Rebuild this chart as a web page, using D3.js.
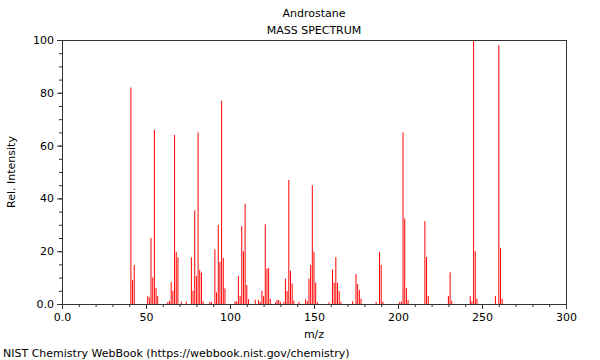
<!DOCTYPE html>
<html>
<head>
<meta charset="utf-8">
<script src="https://cdn.jsdelivr.net/npm/d3@7"></script>
<style>
    body { margin: 0; background: #fff; }
    svg text { font-family: "DejaVu Sans", sans-serif; fill: #000; }
</style>
</head>
<body>
<div id="chart"></div>
<script>
// peaks (m/z, relative intensity)
var massValues = [41, 42, 43, 51, 52, 53, 54, 55, 56, 57, 63, 64, 65, 66, 67, 68, 69, 71, 74,
    77, 78, 79, 80, 81, 82, 83, 84, 88, 89, 91, 92, 93, 94, 95, 96, 97, 103, 104,
    105, 106, 107, 108, 109, 110, 111, 115, 117, 118, 119, 120, 121, 122, 123, 124,
    127, 128, 129, 130, 132, 133, 134, 135, 136, 137, 138, 141, 145, 146, 147, 148,
    149, 150, 151, 152, 159, 161, 162, 163, 164, 165, 166, 173, 175, 176, 177, 178,
    187, 189, 190, 191, 201, 202, 203, 204, 205, 206, 216, 217, 218, 230, 231, 232,
    243, 244, 245, 246, 247, 258, 260, 261, 262];
var intensityValues = [82, 9, 14.8, 3, 2.5, 25, 10, 66, 6, 3, 0.8, 1.2, 8.3, 5, 64, 19.8, 17.7, 0.9, 0.9,
    17.7, 5, 35.5, 10.6, 65, 13, 11.9, 1, 0.9, 0.7, 20.7, 4.4, 30, 16, 77, 17.5, 5.9, 1, 1,
    10.6, 3, 29.5, 20, 38, 7.2, 1.8, 1.6, 1.6, 0.8, 5, 3, 30.2, 13.4, 13.6, 2,
    0.6, 1.5, 1.5, 0.8, 0.8, 9.6, 4.9, 47, 12.6, 7.8, 1.3, 0.8, 1.8, 1, 9.7, 14.8,
    45, 19.8, 8.1, 0.7, 0.7, 13.1, 8.1, 17.8, 8, 4.9, 0.8, 1, 11.4, 7.6, 5.3, 2,
    0.8, 19.7, 14.8, 0.9, 0.8, 0.9, 65, 32.4, 6.1, 1.5, 31.4, 17.8, 3, 3, 12, 1.2,
    3, 1, 100, 20, 2, 3, 98, 21.3, 2];

var xTickValues = [0, 50, 100, 150, 200, 250, 300];
var xTickLabels = ["0.0", "50", "100", "150", "200", "250", "300"];
var yTickValues = [0, 20, 40, 60, 80, 100];
var yTickLabels = ["0.0", "20", "40", "60", "80", "100"];

var chartTitle = "Androstane";
var chartSubtitle = "MASS SPECTRUM";
var footerText = "NIST Chemistry WebBook (https://webbook.nist.gov/chemistry)";

var width = 600, height = 360;
var plotLeft = 62, plotRight = 566, plotTop = 40, plotBottom = 304;

var svgContainer = d3.select("#chart")
    .append("svg")
    .attr("width", width)
    .attr("height", height);

var xScale = d3.scaleLinear().domain([0, 300]).range([plotLeft, plotRight]);
var yScale = d3.scaleLinear().domain([0, 100]).range([plotBottom, plotTop]);

var peaks = massValues.map(function(mz, i) {
    return { mz: mz, intensity: intensityValues[i] };
});

// spectrum lines
svgContainer.append("g")
    .selectAll("line")
    .data(peaks)
    .enter()
    .append("line")
    .attr("x1", function(d) { return xScale(d.mz); })
    .attr("x2", function(d) { return xScale(d.mz); })
    .attr("y1", yScale(0))
    .attr("y2", function(d) { return yScale(d.intensity); })
    .attr("stroke", "#ff0000")
    .attr("stroke-width", 1);

// minor ticks
var xAxisMinor = d3.axisBottom(xScale).tickValues(d3.range(0, 301, 10)).tickSize(3).tickFormat("");
var yAxisMinor = d3.axisLeft(yScale).tickValues(d3.range(0, 101, 5)).tickSize(3).tickFormat("");

svgContainer.append("g")
    .attr("transform", "translate(0," + plotBottom + ")")
    .call(xAxisMinor)
    .call(function(g) { g.select(".domain").remove(); });
svgContainer.append("g")
    .attr("transform", "translate(" + plotLeft + ",0)")
    .call(yAxisMinor)
    .call(function(g) { g.select(".domain").remove(); });

// major ticks + labels
var xAxis = d3.axisBottom(xScale)
    .tickValues(xTickValues)
    .tickSize(5)
    .tickFormat(function(d, i) { return xTickLabels[i]; });
var yAxis = d3.axisLeft(yScale)
    .tickValues(yTickValues)
    .tickSize(5)
    .tickFormat(function(d, i) { return yTickLabels[i]; });

svgContainer.append("g")
    .attr("transform", "translate(0," + plotBottom + ")")
    .call(xAxis)
    .call(function(g) {
        g.select(".domain").remove();
        g.selectAll("text").attr("y", 9).style("font-size", "11px").style("font-family", "DejaVu Sans");
    });
svgContainer.append("g")
    .attr("transform", "translate(" + plotLeft + ",0)")
    .call(yAxis)
    .call(function(g) {
        g.select(".domain").remove();
        g.selectAll("text").attr("x", -8).style("font-size", "11px").style("font-family", "DejaVu Sans");
    });

svgContainer.selectAll(".tick line").attr("stroke", "#333");

// frame
svgContainer.append("rect")
    .attr("x", plotLeft + 0.5)
    .attr("y", plotTop + 0.5)
    .attr("width", plotRight - plotLeft)
    .attr("height", plotBottom - plotTop)
    .attr("fill", "none")
    .attr("stroke", "#333")
    .attr("stroke-width", 1);

// titles
svgContainer.append("text")
    .attr("x", 314)
    .attr("y", 17)
    .attr("text-anchor", "middle")
    .style("font-size", "11px")
    .text(chartTitle);
svgContainer.append("text")
    .attr("x", 314)
    .attr("y", 34)
    .attr("text-anchor", "middle")
    .style("font-size", "11px")
    .text(chartSubtitle);

svgContainer.append("text")
    .attr("x", 314)
    .attr("y", 338)
    .attr("text-anchor", "middle")
    .style("font-size", "11px")
    .text("m/z");

svgContainer.append("text")
    .attr("transform", "translate(15," + ((plotTop + plotBottom) / 2) + ") rotate(-90)")
    .attr("text-anchor", "middle")
    .style("font-size", "11px")
    .text("Rel. Intensity");

svgContainer.append("text")
    .attr("x", 3)
    .attr("y", 357)
    .style("font-size", "11px")
    .text(footerText);
</script>
</body>
</html>
